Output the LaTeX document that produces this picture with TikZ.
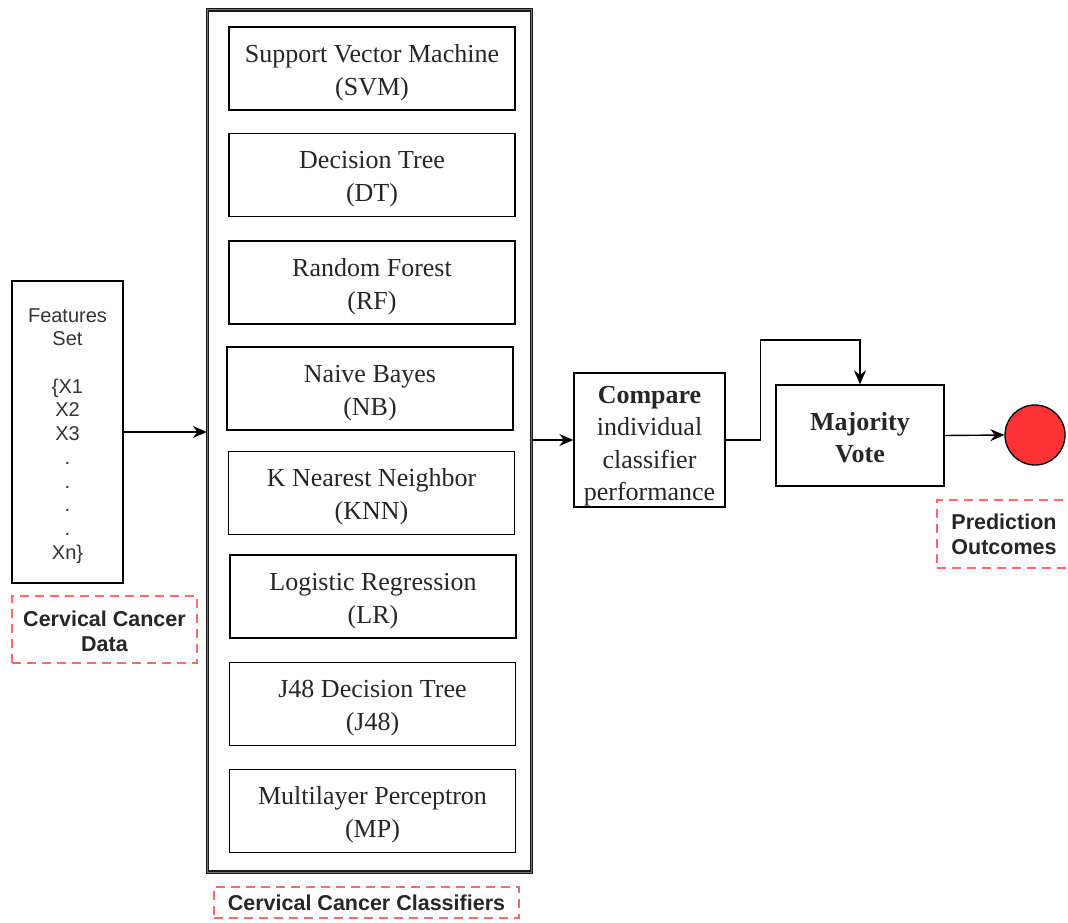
\documentclass[tikz,border=0pt]{standalone}
\usepackage{fontspec}
\setmainfont{Liberation Serif}
\setsansfont{Liberation Sans}
\usetikzlibrary{arrows.meta}
\definecolor{dotred}{HTML}{FF3333}
\definecolor{lblred}{HTML}{FF6B6B}
% taller first line pushes the text a bit lower in its box
\newcommand{\lowr}[1]{\rule{0pt}{#1pt}}

\begin{document}
\begin{tikzpicture}[x=1pt,y=-1pt,
    clf/.style={draw,line width=1.3pt,minimum width=286pt,minimum height=83pt,
      align=center,inner sep=0pt,text=black!85,font=\fontsize{26}{33}\selectfont},
    lbl/.style={draw=lblred,dash pattern=on 9pt off 6pt,line width=2pt,
      align=center,inner sep=0pt,text=black!85,
      font=\sffamily\bfseries\fontsize{21.5}{25}\selectfont},
    arr/.style={-{Stealth[length=14pt,width=12pt]},line width=1.4pt}]
    \useasboundingbox (0,0) rectangle (1068,923);
    % input data
    \node[draw,line width=1.3pt,minimum width=111pt,minimum height=302pt,
      align=center,inner sep=0pt,text=black!80,
      font=\sffamily\fontsize{20}{23.7}\selectfont] (feat) at (67.5,432)
      {\lowr{21.5}Features\\Set\\[23.7pt]\{X1\\X2\\X3\\.\\.\\.\\.\\Xn\}};
    \node[lbl,minimum width=185pt,minimum height=67pt] (datalbl) at (104.5,629.5)
      {\lowr{19.5}Cervical Cancer\\Data};
    % classifier group
    \node[draw=black!90,double=black!55,double distance=1pt,line width=1.3pt,
      minimum width=324pt,minimum height=862pt] (clsbox) at (369.5,441) {};
    \node[clf] (svm) at (372,68.5) {\lowr{26}Support Vector Machine\\(SVM)};
    \node[clf] (dt) at (372,175) {\lowr{26}Decision Tree\\(DT)};
    \node[clf] (rf) at (372,282.5) {\lowr{26}Random Forest\\(RF)};
    \node[clf] (nb) at (370,388.5) {\lowr{26}Naive Bayes\\(NB)};
    \node[clf] (knn) at (371.5,493) {\lowr{26}K Nearest Neighbor\\(KNN)};
    \node[clf] (lr) at (373,596.5) {\lowr{26}Logistic Regression\\(LR)};
    \node[clf] (jfe) at (372.5,704) {\lowr{26}J48 Decision Tree\\(J48)};
    \node[clf] (mp) at (372.5,811) {\lowr{26}Multilayer Perceptron\\(MP)};
    \node[lbl,minimum width=305pt,minimum height=31pt] (clslbl) at (366.5,902.5)
      {Cervical Cancer Classifiers};
    % comparison and voting
    \node[draw,line width=1.3pt,minimum width=151pt,minimum height=134pt,
      align=center,inner sep=0pt,text=black!85,font=\fontsize{26}{32.5}\selectfont]
      (cmp) at (649.5,440) {\lowr{30}\textbf{Compare}\\individual\\classifier\\performance};
    \node[draw,line width=1.3pt,minimum width=168pt,minimum height=101pt,
      align=center,inner sep=0pt,text=black!85,font=\bfseries\fontsize{26}{32}\selectfont]
      (vote) at (860,435.5) {\lowr{22}Majority\\Vote};
    \node[circle,draw,line width=1.3pt,fill=dotred,minimum size=60pt,inner sep=0pt]
      (outc) at (1035,435) {};
    \node[lbl,minimum width=134pt,minimum height=68pt] (predlbl) at (1004,534)
      {Prediction\\Outcomes};
    % connectors
    \draw[arr] (feat.east) -- (feat.east -| clsbox.west);
    \draw[arr] (clsbox.east |- cmp.west) -- (cmp.west);
    \draw[arr] (cmp.east) -| ++(35,-100) -| (vote.north);
    \draw[arr] (vote.east) -- (outc.west);
\end{tikzpicture}
\end{document}
